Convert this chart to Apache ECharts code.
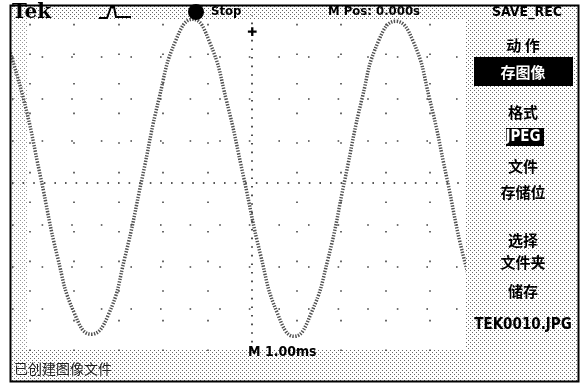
<!DOCTYPE html>
<html>
<head>
<meta charset="utf-8">
<title>Tek SAVE_REC</title>
<script src="https://cdn.jsdelivr.net/npm/echarts@6/dist/echarts.min.js"></script>
<style>
html, body { margin: 0; padding: 0; background: #fff; }
#chart { width: 581px; height: 385px; }
</style>
</head>
<body>
<div id="chart"></div>
<script>
// trace: time in ms (M 1.00ms/div), level in divisions
const traceTime = [-5.51, -5.13, -4.75, -4.37, -3.99, -3.61, -3.23, -2.85, -2.47, -2.09,
  -1.71, -1.33, -0.95, -0.57, -0.19, 0.19, 0.57, 0.95, 1.33, 1.71,
  2.09, 2.47, 2.85, 3.23, 3.61, 3.99, 4.37, 4.75, 5.13]
const traceLevel = [3.35, 2.0, 0.15, -1.75, -3.1, -3.6, -3.15, -1.75, 0.1, 2.0,
  3.4, 3.9, 3.35, 1.95, 0.15, -1.7, -3.1, -3.65, -3.1, -1.8,
  0.1, 2.0, 3.4, 3.85, 3.4, 2.0, 0.15, -1.75, -3.1]

// graticule divisions
const gridTimes = [-5, -4, -3, -2, -1, 1, 2, 3, 4]
const gridLevels = [-3, -2, -1, 1, 2, 3]

// screen texts
const topLabels = ['Tek', 'Stop', 'M Pos: 0.000s', 'SAVE_REC']
const menuLabels = ['动 作', '存图像', '格式', 'JPEG', '文件', '存储位', '选择', '文件夹', '储存', 'TEK0010.JPG']
const bottomLabels = ['M 1.00ms', '已创建图像文件']

const cjk = '"Noto Sans CJK SC", sans-serif'
const cond = '"DejaVu Sans Condensed", sans-serif'

// dot texture like the scope's menu background
function dotTexture(color) {
  const c = document.createElement('canvas')
  c.width = 4
  c.height = 4
  const ctx = c.getContext('2d')
  ctx.fillStyle = color
  ctx.fillRect(0, 0, 1, 1)
  ctx.fillRect(2, 2, 1, 1)
  return c
}
const tex = dotTexture('#666')

function menuText(label, y, inverse) {
  return {
    type: 'text',
    x: 523,
    y: y,
    z: 20,
    style: {
      text: label,
      fill: inverse ? '#fff' : '#000',
      font: 'bold 15px ' + (/^[A-Z0-9._]+$/.test(label) ? cond : cjk),
      align: 'center',
      verticalAlign: 'middle'
    }
  }
}

const chart = echarts.init(document.getElementById('chart'))

chart.setOption({
  backgroundColor: '#fff',
  animation: false,
  grid: { left: 12, top: 15, width: 451, height: 336 },
  xAxis: {
    type: 'value',
    min: -5.39,
    max: 4.74,
    axisLine: { show: false },
    axisTick: { show: false },
    axisLabel: { show: false },
    splitLine: { show: false }
  },
  yAxis: {
    type: 'value',
    min: -4,
    max: 4,
    axisLine: { show: false },
    axisTick: { show: false },
    axisLabel: { show: false },
    splitLine: { show: false }
  },
  series: [{
    type: 'line',
    data: traceTime.map((t, i) => [t, traceLevel[i]]),
    smooth: true,
    showSymbol: false,
    z: 5,
    lineStyle: { color: '#505050', width: 3.5, type: [1.4, 1.4] },
    markLine: {
      silent: true,
      symbol: 'none',
      label: { show: false },
      lineStyle: { color: '#444', width: 1.6, type: [1.6, 28] },
      data: [
        ...gridTimes.map(t => ({ xAxis: t })),
        ...gridLevels.map(v => ({ yAxis: v })),
        { xAxis: 0, lineStyle: { color: '#222', width: 1.6, type: [1.6, 7] } },
        { yAxis: 0, lineStyle: { color: '#222', width: 1.6, type: [1.6, 9] } }
      ]
    }
  }],
  graphic: [
    // textured bars: top status, right menu, bottom status, left edge
    { type: 'rect', z: 1, shape: { x: 10, y: 5, width: 567, height: 14 }, style: { fill: { image: tex, repeat: 'repeat' } } },
    { type: 'rect', z: 1, shape: { x: 465, y: 19, width: 112, height: 333 }, style: { fill: { image: tex, repeat: 'repeat' } } },
    { type: 'rect', z: 1, shape: { x: 10, y: 349, width: 567, height: 32 }, style: { fill: { image: tex, repeat: 'repeat' } } },
    { type: 'rect', z: 1, shape: { x: 12, y: 19, width: 16, height: 330 }, style: { fill: { image: tex, repeat: 'repeat' }, opacity: 0.7 } },
    // frame
    { type: 'rect', z: 30, shape: { x: 10.5, y: 5.5, width: 568, height: 376 }, style: { fill: null, stroke: '#000', lineWidth: 2 } },

    // top line
    { type: 'text', z: 20, x: 12, y: 13, style: { text: topLabels[0], font: 'bold 20px "DejaVu Serif", serif', fill: '#000', verticalAlign: 'middle' } },
    { type: 'polyline', z: 20, shape: { points: [[99, 18], [107, 18], [111, 7], [114, 7], [116, 17], [131, 17]] }, style: { stroke: '#000', lineWidth: 2, fill: null } },
    { type: 'circle', z: 20, shape: { cx: 196, cy: 12, r: 8 }, style: { fill: '#000' } },
    { type: 'text', z: 20, x: 211, y: 12, style: { text: topLabels[1], font: 'bold 13px ' + cond, fill: '#000', verticalAlign: 'middle' } },
    { type: 'text', z: 20, x: 328, y: 12, style: { text: topLabels[2], font: 'bold 13px ' + cond, fill: '#000', verticalAlign: 'middle' } },
    { type: 'text', z: 20, x: 527, y: 12, style: { text: topLabels[3], font: 'bold 14px ' + cond, fill: '#000', align: 'center', verticalAlign: 'middle' } },
    // trigger position marker
    { type: 'text', z: 20, x: 252, y: 33, style: { text: '✚', font: 'bold 12px "DejaVu Sans", sans-serif', fill: '#000', align: 'center', verticalAlign: 'middle' } },

    // menu
    { type: 'rect', z: 15, shape: { x: 474, y: 57, width: 99, height: 29 }, style: { fill: '#000' } },
    { type: 'rect', z: 15, shape: { x: 506, y: 128, width: 38, height: 18 }, style: { fill: '#000' } },
    menuText(menuLabels[0], 45, false),
    menuText(menuLabels[1], 72, true),
    menuText(menuLabels[2], 112, false),
    menuText(menuLabels[3], 137, true),
    menuText(menuLabels[4], 166, false),
    menuText(menuLabels[5], 192, false),
    menuText(menuLabels[6], 240, false),
    menuText(menuLabels[7], 262, false),
    menuText(menuLabels[8], 291, false),
    menuText(menuLabels[9], 325, false),

    // bottom
    { type: 'text', z: 20, x: 248, y: 352, style: { text: bottomLabels[0], font: 'bold 14px ' + cond, fill: '#000', verticalAlign: 'middle' } },
    { type: 'text', z: 20, x: 14, y: 369, style: { text: bottomLabels[1], font: '14px ' + cjk, fill: '#222', verticalAlign: 'middle' } }
  ]
})
</script>
</body>
</html>
